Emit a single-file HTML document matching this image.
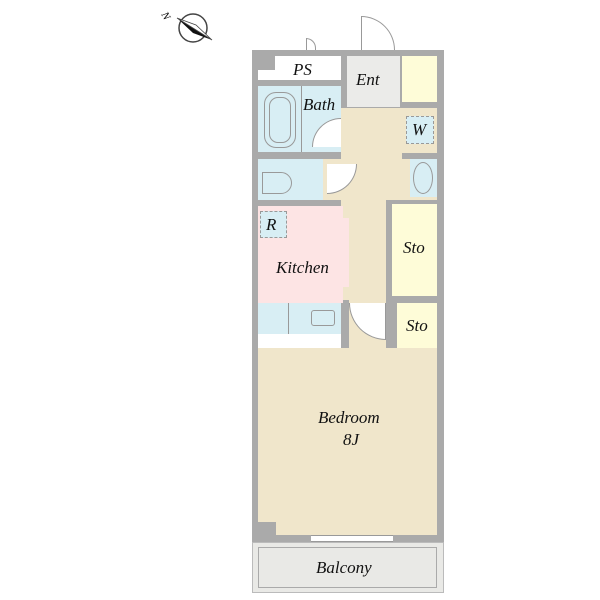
<!DOCTYPE html>
<html><head><style>
body{margin:0;width:600px;height:600px;background:#fff;position:relative;overflow:hidden;font-family:"Liberation Serif",serif;font-style:italic}
div{position:absolute;box-sizing:border-box}
.t{font-size:17px;color:#111;white-space:nowrap}
</style></head><body>
<div style="left:252px;top:50px;width:192px;height:492px;background:#aaa"></div>
<div style="left:258px;top:56px;width:83px;height:24px;background:#fff"></div>
<div style="left:258px;top:56px;width:17px;height:14px;background:#aaa"></div>
<div style="left:258px;top:86px;width:83px;height:66px;background:#d8eef4"></div>
<div style="left:301px;top:86px;width:1px;height:66px;background:#999"></div>
<div style="left:264px;top:92px;width:32px;height:56px;border:1px solid #999;border-radius:12px"></div>
<div style="left:269px;top:97px;width:22px;height:46px;border:1px solid #999;border-radius:9px"></div>
<div style="left:258px;top:159px;width:65px;height:41px;background:#d8eef4"></div>
<div style="left:262px;top:172px;width:30px;height:22px;border:1px solid #999;border-radius:0 12px 12px 0"></div>
<div style="left:347px;top:56px;width:53px;height:51px;background:#ebebe9"></div>
<div style="left:402px;top:56px;width:35px;height:46px;background:#fefcd8"></div>
<div style="left:341px;top:108px;width:96px;height:192px;background:#f0e6cb"></div>
<div style="left:323px;top:159px;width:24px;height:41px;background:#f0e6cb"></div>
<div style="left:402px;top:153px;width:35px;height:6px;background:#aaa"></div>
<div style="left:410px;top:159px;width:27px;height:38px;background:#d8eef4"></div>
<div style="left:413px;top:162px;width:20px;height:32px;border:1px solid #999;border-radius:50%"></div>
<div style="left:406px;top:116px;width:28px;height:28px;background:#d8eef4;border:1px dashed #999"></div>
<div style="left:386px;top:200px;width:51px;height:100px;background:#aaa"></div>
<div style="left:392px;top:204px;width:45px;height:92px;background:#fefcd8"></div>
<div style="left:391px;top:300px;width:46px;height:52px;background:#aaa"></div>
<div style="left:397px;top:303px;width:40px;height:45px;background:#fefcd8"></div>
<div style="left:258px;top:206px;width:85px;height:97px;background:#fde4e4"></div>
<div style="left:349px;top:200px;width:37px;height:148px;background:#f0e6cb"></div>
<div style="left:343px;top:218px;width:6px;height:69px;background:#fde4e4"></div>
<div style="left:260px;top:211px;width:27px;height:27px;background:#d8eef4;border:1px dashed #999"></div>
<div style="left:258px;top:303px;width:83px;height:31px;background:#d8eef4"></div>
<div style="left:288px;top:303px;width:1px;height:31px;background:#999"></div>
<div style="left:311px;top:310px;width:24px;height:16px;border:1px solid #999;border-radius:3px"></div>
<div style="left:258px;top:334px;width:83px;height:14px;background:#fff"></div>
<div style="left:258px;top:348px;width:179px;height:187px;background:#f0e6cb"></div>
<div style="left:349px;top:300px;width:37px;height:48px;background:#f0e6cb"></div>
<div style="left:258px;top:522px;width:18px;height:13px;background:#aaa"></div>
<div style="left:311px;top:535px;width:82px;height:7px;background:#fff;border-top:1px solid #999;border-bottom:1px solid #999"></div>
<div style="left:252px;top:542px;width:192px;height:51px;background:#e9e9e6;border:1px solid #bbb"></div>
<div style="left:258px;top:547px;width:179px;height:41px;border:1px solid #aaa"></div>
<!-- doors -->
<div style="left:361px;top:16px;width:34px;height:34px;background:#fff;border-top:1px solid #999;border-right:1px solid #999;border-left:1px solid #999;border-top-right-radius:34px"></div>
<div style="left:306px;top:38px;width:10px;height:12px;background:#fff;border:1px solid #999;border-bottom:none;border-top-right-radius:10px"></div>
<div style="left:312px;top:118px;width:29px;height:29px;background:#fff;border-top:1px solid #999;border-left:1px solid #999;border-top-left-radius:29px"></div>
<div style="left:327px;top:164px;width:30px;height:30px;background:#fff;border-right:1px solid #999;border-bottom:1px solid #999;border-bottom-right-radius:30px"></div>
<div style="left:349px;top:303px;width:37px;height:37px;background:#fff;border-left:1px solid #999;border-bottom:1px solid #999;border-right:1px solid #999;border-bottom-left-radius:37px"></div>
<svg style="position:absolute;left:0;top:0" width="600" height="600">
<circle cx="193" cy="28" r="14" fill="#fff" stroke="#444" stroke-width="1.5"/>
<polygon points="177,18 212,40 193,33" fill="#111"/>
<polygon points="177,18 212,40 196,25" fill="#fff" stroke="#444" stroke-width="0.8"/>
<text x="163" y="19" font-size="11" font-family="Liberation Serif" transform="rotate(60 166 15)">N</text>
</svg>
<div class="t" style="left:293px;top:60px">PS</div>
<div class="t" style="left:356px;top:70px">Ent</div>
<div class="t" style="left:303px;top:95px">Bath</div>
<div class="t" style="left:412px;top:120px">W</div>
<div class="t" style="left:266px;top:215px">R</div>
<div class="t" style="left:276px;top:258px">Kitchen</div>
<div class="t" style="left:403px;top:238px">Sto</div>
<div class="t" style="left:406px;top:316px">Sto</div>
<div class="t" style="left:318px;top:408px">Bedroom</div>
<div class="t" style="left:343px;top:430px">8J</div>
<div class="t" style="left:316px;top:558px">Balcony</div>
</body></html>
